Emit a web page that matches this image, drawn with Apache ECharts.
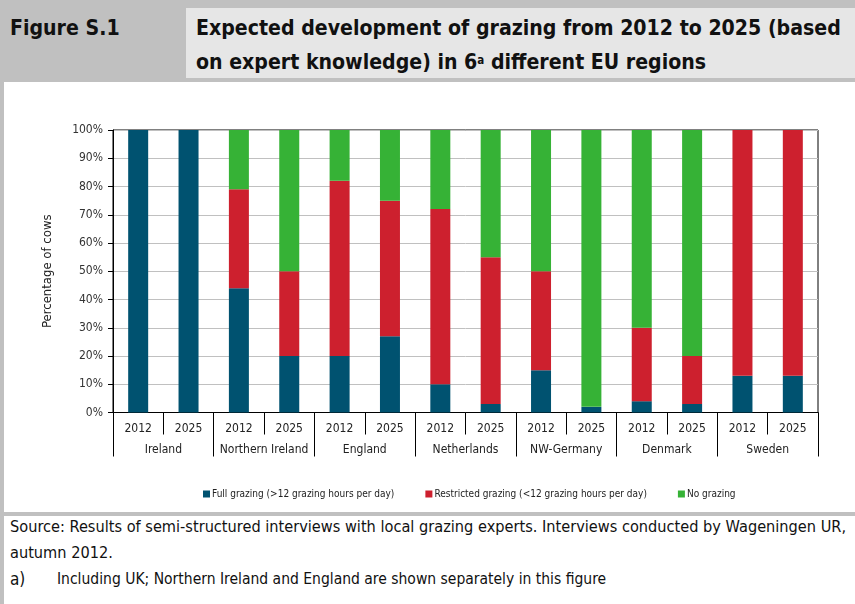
<!DOCTYPE html>
<html>
<head>
<meta charset="utf-8">
<title>Figure S.1</title>
<script src="https://cdn.jsdelivr.net/npm/echarts@6/dist/echarts.min.js"></script>
<style>
body{
margin:0;
background:#fff;
font-family:"Liberation Sans Narrow","DejaVu Sans Condensed","Liberation Sans",sans-serif;
color:#111;
}
.page{
position:relative;
width:855px;
height:604px;
overflow:hidden;
}
.header{
position:absolute;
left:0;top:0;
width:855px;height:82px;
background:#c0c0c0;
}
.titlebox{
position:absolute;
left:186px;top:8px;
width:669px;height:70px;
background:#e6e6e6;
}
.figno{
position:absolute;
left:10px;top:11px;
font-weight:bold;
font-size:22px;
line-height:34px;
transform:scaleX(0.96);
transform-origin:left center;
}
.title{
position:absolute;
left:196px;top:11px;
font-weight:bold;
font-size:22px;
line-height:34px;
white-space:nowrap;
transform:scaleX(0.96);
transform-origin:left center;
}
.title sup{
font-size:12px;
vertical-align:top;
position:relative;
top:-2px;
}
.leftbar{
position:absolute;
left:0;top:82px;
width:4px;height:522px;
background:#c0c0c0;
}
.sep{
position:absolute;
left:0;top:512px;
width:855px;height:4px;
background:#c0c0c0;
}
.source{
position:absolute;
left:10px;top:514px;
font-size:16.2px;
line-height:26px;
white-space:nowrap;
}
.note{
position:absolute;
left:10px;top:566px;
font-size:17px;
line-height:26px;
white-space:nowrap;
}
.note span{
position:absolute;
left:47px;
font-size:15.5px;
}
#chart{
position:absolute;
left:0;top:0;
width:855px;height:604px;
}
</style>
</head>
<body>
<div class="page">

<div class="header"></div>
<div class="titlebox"></div>
<div class="figno">Figure S.1</div>
<div class="title">Expected development of grazing from 2012 to 2025 (based<br>on expert knowledge) in 6<sup>a</sup> different EU regions</div>

<div class="leftbar"></div>
<div class="sep"></div>

<div class="source">Source: Results of semi-structured interviews with local grazing experts. Interviews conducted by Wageningen UR,<br>autumn 2012.</div>
<div class="note">a)<span>Including UK; Northern Ireland and England are shown separately in this figure</span></div>

<div id="chart"></div>

</div>

<script>

const years=["2012","2025","2012","2025","2012","2025","2012","2025","2012","2025","2012","2025","2012","2025"]

const regions=["Ireland","Northern Ireland","England","Netherlands","NW-Germany","Denmark","Sweden"]

const fullGrazing=[100,100,44,20,20,27,10,3,15,2,4,3,13,13]

const restrictedGrazing=[0,0,35,30,62,48,62,52,35,0,26,17,87,87]

const noGrazing=[0,0,21,50,18,25,28,45,50,98,70,80,0,0]

const seriesNames=[
"Full grazing (>12 grazing hours per day)",
"Restricted grazing (<12 grazing hours per day)",
"No grazing"
]

const colors=["#005270","#cd202e","#36b236"]

const font='"Liberation Sans Narrow","DejaVu Sans Condensed","Liberation Sans",sans-serif'

const chart=echarts.init(document.getElementById("chart"),null,{renderer:"canvas"})

function bar(name,data,color){
return {
name:name,
type:"bar",
stack:"cows",
data:data,
barWidth:20,
itemStyle:{color:color},
emphasis:{disabled:true}
}
}

chart.setOption({

backgroundColor:"transparent",
animation:false,
color:colors,

textStyle:{fontFamily:font},

grid:{
left:113,
top:130,
width:705,
height:282.5,
show:true,
borderColor:"#000",
borderWidth:1
},

legend:{
top:484,
left:198,
itemWidth:7,
itemHeight:7,
itemGap:31,
icon:"rect",
selectedMode:false,
textStyle:{fontFamily:font,fontSize:10,color:"#222",padding:[0,0,0,-3]},
data:seriesNames
},

xAxis:[
{
type:"category",
data:years,
position:"bottom",
axisLine:{lineStyle:{color:"#000",width:1}},
axisTick:{show:true,interval:0,length:22,lineStyle:{color:"#000"}},
axisLabel:{interval:0,margin:10,fontFamily:font,fontSize:12,color:"#222"}
},
{
type:"category",
data:regions,
position:"bottom",
axisLine:{show:false},
axisTick:{show:true,interval:0,length:44,lineStyle:{color:"#000"}},
axisLabel:{interval:0,margin:31,fontFamily:font,fontSize:12,color:"#222"}
}
],

yAxis:{
type:"value",
min:0,
max:100,
interval:10,
name:"Percentage of cows",
nameLocation:"middle",
nameGap:59,
nameTextStyle:{fontFamily:font,fontSize:13,color:"#222"},
axisLine:{show:true,lineStyle:{color:"#000",width:1}},
axisTick:{show:true,length:5,lineStyle:{color:"#000"}},
axisLabel:{formatter:"{value}%",margin:10,fontFamily:font,fontSize:12,color:"#333"},
splitLine:{lineStyle:{color:"#c0c0c0",width:1}}
},

series:[
bar(seriesNames[0],fullGrazing,colors[0]),
bar(seriesNames[1],restrictedGrazing,colors[1]),
bar(seriesNames[2],noGrazing,colors[2])
]

})

</script>
</body>
</html>
